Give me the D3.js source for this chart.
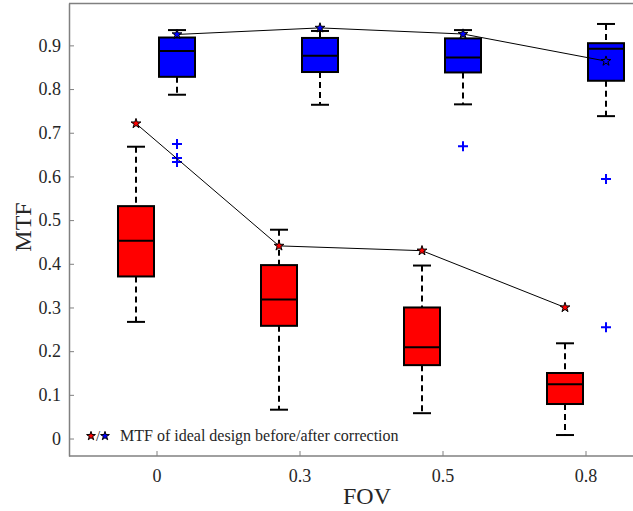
<!DOCTYPE html>
<html>
<head>
<meta charset="utf-8">
<script src="https://cdn.jsdelivr.net/npm/d3@7"></script>
<style>
  body { margin: 0; background: #fff; }
  svg { display: block; font-family: "Liberation Serif", "Times New Roman", serif; }
</style>
</head>
<body>
<div id="chart"></div>
<script>
(function (d3) {
  'use strict';

  // FOV categories and y tick values
  const fov = ['0', '0.3', '0.5', '0.8'];
  const yTicks = [0, 0.1, 0.2, 0.3, 0.4, 0.5, 0.6, 0.7, 0.8, 0.9];

  // box stats per FOV: [lower whisker, q1, median, q3, upper whisker]
  const beforeStats = [
    [0.267, 0.371, 0.453, 0.532, 0.668],
    [0.066, 0.258, 0.318, 0.397, 0.478],
    [0.058, 0.168, 0.209, 0.300, 0.396],
    [0.008, 0.079, 0.124, 0.150, 0.218]
  ];
  const afterStats = [
    [0.787, 0.828, 0.887, 0.918, 0.935],
    [0.764, 0.839, 0.876, 0.917, 0.933],
    [0.765, 0.838, 0.872, 0.916, 0.935],
    [0.738, 0.819, 0.892, 0.905, 0.949]
  ];
  // outliers as [fov, value]
  const afterOutliers = [['0', 0.674], ['0', 0.642], ['0', 0.633], ['0.5', 0.669], ['0.8', 0.594], ['0.8', 0.255]];

  // MTF of ideal design
  const idealBefore = [0.721, 0.441, 0.430, 0.300];
  const idealAfter = [0.925, 0.940, 0.926, 0.864];

  var width = 633,
      height = 511,
      left = 69, right = 665, top = 3, bottom = 456,
      offset = 20.5, boxW = 36, capW = 18,
      axisColor = '#808080', textColor = '#262626',
      serif = '"Liberation Serif", "Times New Roman", serif';

  var svg = d3.select('#chart').append('svg')
      .attr('width', width)
      .attr('height', height);

  var x = d3.scalePoint().domain(fov).range([156.5, 585.5]);
  var y = d3.scaleLinear().domain([-0.04, 0.997]).range([bottom, top]);

  // top border
  svg.append('line')
      .attr('x1', left).attr('x2', right)
      .attr('y1', top + 0.5).attr('y2', top + 0.5)
      .attr('stroke', axisColor).attr('stroke-width', 1.5);

  var gx = svg.append('g')
      .attr('transform', 'translate(0,' + bottom + ')')
      .call(d3.axisBottom(x).tickSize(-5).tickSizeOuter(0).tickPadding(13));
  var gy = svg.append('g')
      .attr('transform', 'translate(' + left + ',0)')
      .call(d3.axisLeft(y).tickValues(yTicks).tickSize(-5).tickSizeOuter(0).tickPadding(8)
        .tickFormat(function (d) { return d === 0 ? '0' : d3.format('.1f')(d); }));

  gx.select('.domain').attr('d', 'M' + left + ',0H' + right);
  [gx, gy].forEach(function (g) {
    g.attr('font-family', serif).attr('font-size', 18);
    g.select('.domain').attr('stroke', axisColor).attr('stroke-width', 1.5);
    g.selectAll('.tick line').attr('stroke', axisColor);
    g.selectAll('.tick text').attr('fill', textColor);
  });

  svg.append('text')
      .attr('transform', 'translate(31,227) rotate(-90)')
      .attr('text-anchor', 'middle')
      .attr('fill', textColor)
      .style('font-size', '24px')
      .text('MTF');
  svg.append('text')
      .attr('x', 367).attr('y', 504)
      .attr('text-anchor', 'middle')
      .attr('fill', textColor)
      .style('font-size', '24px')
      .text('FOV');

  function drawBoxes(stats, dx, color) {
    var g = svg.append('g');
    var items = stats.map(function (s, i) { return { cx: x(fov[i]) + dx, s: s }; });
    var grp = g.selectAll('g.box').data(items).enter().append('g').attr('class', 'box');
    // whiskers
    grp.append('line')
        .attr('x1', function (d) { return d.cx; }).attr('x2', function (d) { return d.cx; })
        .attr('y1', function (d) { return y(d.s[4]); }).attr('y2', function (d) { return y(d.s[3]); })
        .attr('stroke', '#000').attr('stroke-width', 2).attr('stroke-dasharray', '6,4');
    grp.append('line')
        .attr('x1', function (d) { return d.cx; }).attr('x2', function (d) { return d.cx; })
        .attr('y1', function (d) { return y(d.s[1]); }).attr('y2', function (d) { return y(d.s[0]); })
        .attr('stroke', '#000').attr('stroke-width', 2).attr('stroke-dasharray', '6,4');
    [0, 4].forEach(function (k) {
      grp.append('line')
          .attr('x1', function (d) { return d.cx - capW / 2; }).attr('x2', function (d) { return d.cx + capW / 2; })
          .attr('y1', function (d) { return y(d.s[k]); }).attr('y2', function (d) { return y(d.s[k]); })
          .attr('stroke', '#000').attr('stroke-width', 2);
    });
    grp.append('rect')
        .attr('x', function (d) { return d.cx - boxW / 2; })
        .attr('y', function (d) { return y(d.s[3]); })
        .attr('width', boxW)
        .attr('height', function (d) { return y(d.s[1]) - y(d.s[3]); })
        .attr('fill', color).attr('stroke', '#000').attr('stroke-width', 2);
    grp.append('line')
        .attr('x1', function (d) { return d.cx - boxW / 2; }).attr('x2', function (d) { return d.cx + boxW / 2; })
        .attr('y1', function (d) { return y(d.s[2]); }).attr('y2', function (d) { return y(d.s[2]); })
        .attr('stroke', '#000').attr('stroke-width', 2);
  }

  drawBoxes(beforeStats, -offset, '#ff0000');
  drawBoxes(afterStats, offset, '#0000ff');

  // outliers
  svg.selectAll('path.outlier').data(afterOutliers).enter()
    .append('path')
      .attr('class', 'outlier')
      .attr('d', function (d) {
        var cx = x(d[0]) + offset, cy = y(d[1]);
        return 'M' + (cx - 5) + ',' + cy + 'H' + (cx + 5) + 'M' + cx + ',' + (cy - 5) + 'V' + (cy + 5);
      })
      .attr('stroke', '#0000ff').attr('stroke-width', 2).attr('fill', 'none');

  // ideal lines and stars
  var star = d3.symbol().type(d3.symbolStar).size(30);
  function drawIdeal(vals, dx, color) {
    var pts = vals.map(function (v, i) { return [x(fov[i]) + dx, y(v)]; });
    svg.append('path')
        .attr('d', d3.line()(pts))
        .attr('fill', 'none').attr('stroke', '#000').attr('stroke-width', 1);
    svg.selectAll(null).data(pts).enter()
      .append('path')
        .attr('d', star)
        .attr('transform', function (d) { return 'translate(' + d[0] + ',' + d[1] + ')'; })
        .attr('fill', color).attr('stroke', '#000').attr('stroke-width', 1);
  }
  drawIdeal(idealBefore, -offset, '#ff0000');
  drawIdeal(idealAfter, offset, '#0000ff');

  // legend
  var small = d3.symbol().type(d3.symbolStar).size(24);
  svg.append('path').attr('d', small).attr('transform', 'translate(91,436)')
      .attr('fill', '#ff0000').attr('stroke', '#000').attr('stroke-width', 1);
  svg.append('text').attr('x', 98).attr('y', 441).attr('text-anchor', 'middle')
      .attr('fill', textColor).style('font-size', '15px').text('/');
  svg.append('text').attr('x', 120).attr('y', 441)
      .attr('fill', textColor).style('font-size', '16px')
      .text('MTF of ideal design before/after correction');
  svg.append('path').attr('d', small).attr('transform', 'translate(105,436)')
      .attr('fill', '#0000ff').attr('stroke', '#000').attr('stroke-width', 1);
})(d3);
</script>
</body>
</html>
